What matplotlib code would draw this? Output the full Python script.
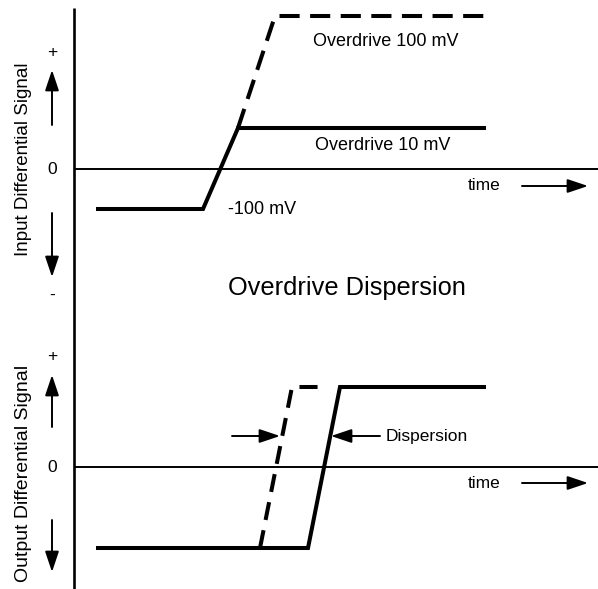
import matplotlib
matplotlib.use("Agg")
import matplotlib.pyplot as plt

plt.rcParams['font.family'] = ['Liberation Sans', 'DejaVu Sans']

# ---- data (abstract time / signal units) ----
# Input panel
t_in_10 = [2.2, 12.9, 16.4, 41.2]
v_in_10 = [-4.0, -4.0, 4.1, 4.1]
t_in_100 = [16.4, 20.1, 41.2]
v_in_100 = [4.1, 15.3, 15.3]
# Output panel
t_out_10 = [2.2, 23.4, 26.6, 41.2]
v_out_10 = [-8.1, -8.1, 8.0, 8.0]
t_out_100 = [18.6, 21.8, 25.4]
v_out_100 = [-8.1, 8.0, 8.0]
# dispersion markers
disp_level = 3.1
disp_left = [15.8, 20.6]
disp_right = [30.6, 25.7]

W, H = 598, 589
fig = plt.figure(figsize=(W / 100, H / 100), dpi=100)
split = 318
ax_top = fig.add_axes([0, (H - split) / H, 1, split / H])
ax_bot = fig.add_axes([0, 0, 1, (H - split) / H])
xlim = (-7.4, 52.4)
ax_top.set_xlim(*xlim)
ax_top.set_ylim(-14.9, 16.9)
ax_bot.set_xlim(*xlim)
ax_bot.set_ylim(-12.2, 14.9)
for ax in (ax_top, ax_bot):
    ax.axis('off')

lw = 2.9
k = 'black'
# vertical axis (one continuous line through both panels)
ax_top.plot([0, 0], [16.1, -43.0], color=k, lw=1.9, solid_capstyle='butt', clip_on=False)
# zero lines
for ax in (ax_top, ax_bot):
    ax.plot([0, xlim[1]], [0, 0], color=k, lw=1.4, solid_capstyle='butt')

# signals
ax_top.plot(t_in_10, v_in_10, color=k, lw=lw, solid_capstyle='butt', solid_joinstyle='miter')
ax_top.plot(t_in_100, v_in_100, color=k, lw=lw, ls=(0, (5, 2.6)), dash_capstyle='butt', dash_joinstyle='miter')
ax_bot.plot(t_out_10, v_out_10, color=k, lw=lw, solid_capstyle='butt', solid_joinstyle='miter')
ax_bot.plot(t_out_100, v_out_100, color=k, lw=lw, ls=(0, (4.5, 2.6)), dash_capstyle='butt', dash_joinstyle='miter')

arrow = dict(arrowstyle='-|>,head_length=1.25,head_width=0.42', color=k, lw=1.4, shrinkA=0, shrinkB=0)

# dispersion arrows
ax_bot.annotate('', xy=(disp_left[1], disp_level), xytext=(disp_left[0], disp_level), arrowprops=arrow)
ax_bot.annotate('', xy=(disp_right[1], disp_level), xytext=(disp_right[0], disp_level), arrowprops=arrow)
ax_bot.text(31.2, disp_level, 'Dispersion', fontsize=12.5, ha='left', va='center')

# time arrows
for ax, y in ((ax_top, -1.7), (ax_bot, -1.6)):
    ax.text(39.4, y, 'time', fontsize=12.5, ha='left', va='center')
    ax.annotate('', xy=(51.4, y), xytext=(44.8, y), arrowprops=arrow)

# left markers
ax_top.text(-2.2, 11.7, '+', fontsize=12.5, ha='center', va='center')
ax_top.annotate('', xy=(-2.2, 9.9), xytext=(-2.2, 4.4), arrowprops=arrow)
ax_top.text(-2.2, 0, '0', fontsize=12.5, ha='center', va='center')
ax_top.annotate('', xy=(-2.2, -10.8), xytext=(-2.2, -4.4), arrowprops=arrow)
ax_top.text(-2.2, -12.6, '-', fontsize=12.5, ha='center', va='center')
ax_bot.text(-2.2, 11.0, '+', fontsize=12.5, ha='center', va='center')
ax_bot.annotate('', xy=(-2.2, 9.2), xytext=(-2.2, 4.0), arrowprops=arrow)
ax_bot.text(-2.2, 0, '0', fontsize=12.5, ha='center', va='center')
ax_bot.annotate('', xy=(-2.2, -10.5), xytext=(-2.2, -5.3), arrowprops=arrow)

ax_top.text(-5.0, 1.0, 'Input Differential Signal', fontsize=13.5, rotation=90, ha='center', va='center')
ax_bot.text(-5.0, -0.6, 'Output Differential Signal', fontsize=14, rotation=90, ha='center', va='center')

# annotations
ax_top.text(23.9, 12.7, 'Overdrive 100 mV', fontsize=13, ha='left', va='center')
ax_top.text(24.1, 2.4, 'Overdrive 10 mV', fontsize=13, ha='left', va='center')
ax_top.text(15.4, -4.0, '-100 mV', fontsize=13, ha='left', va='center')
ax_top.text(15.4, -11.9, 'Overdrive Dispersion', fontsize=18.3, ha='left', va='center')

fig.savefig('out.png', dpi=100)
